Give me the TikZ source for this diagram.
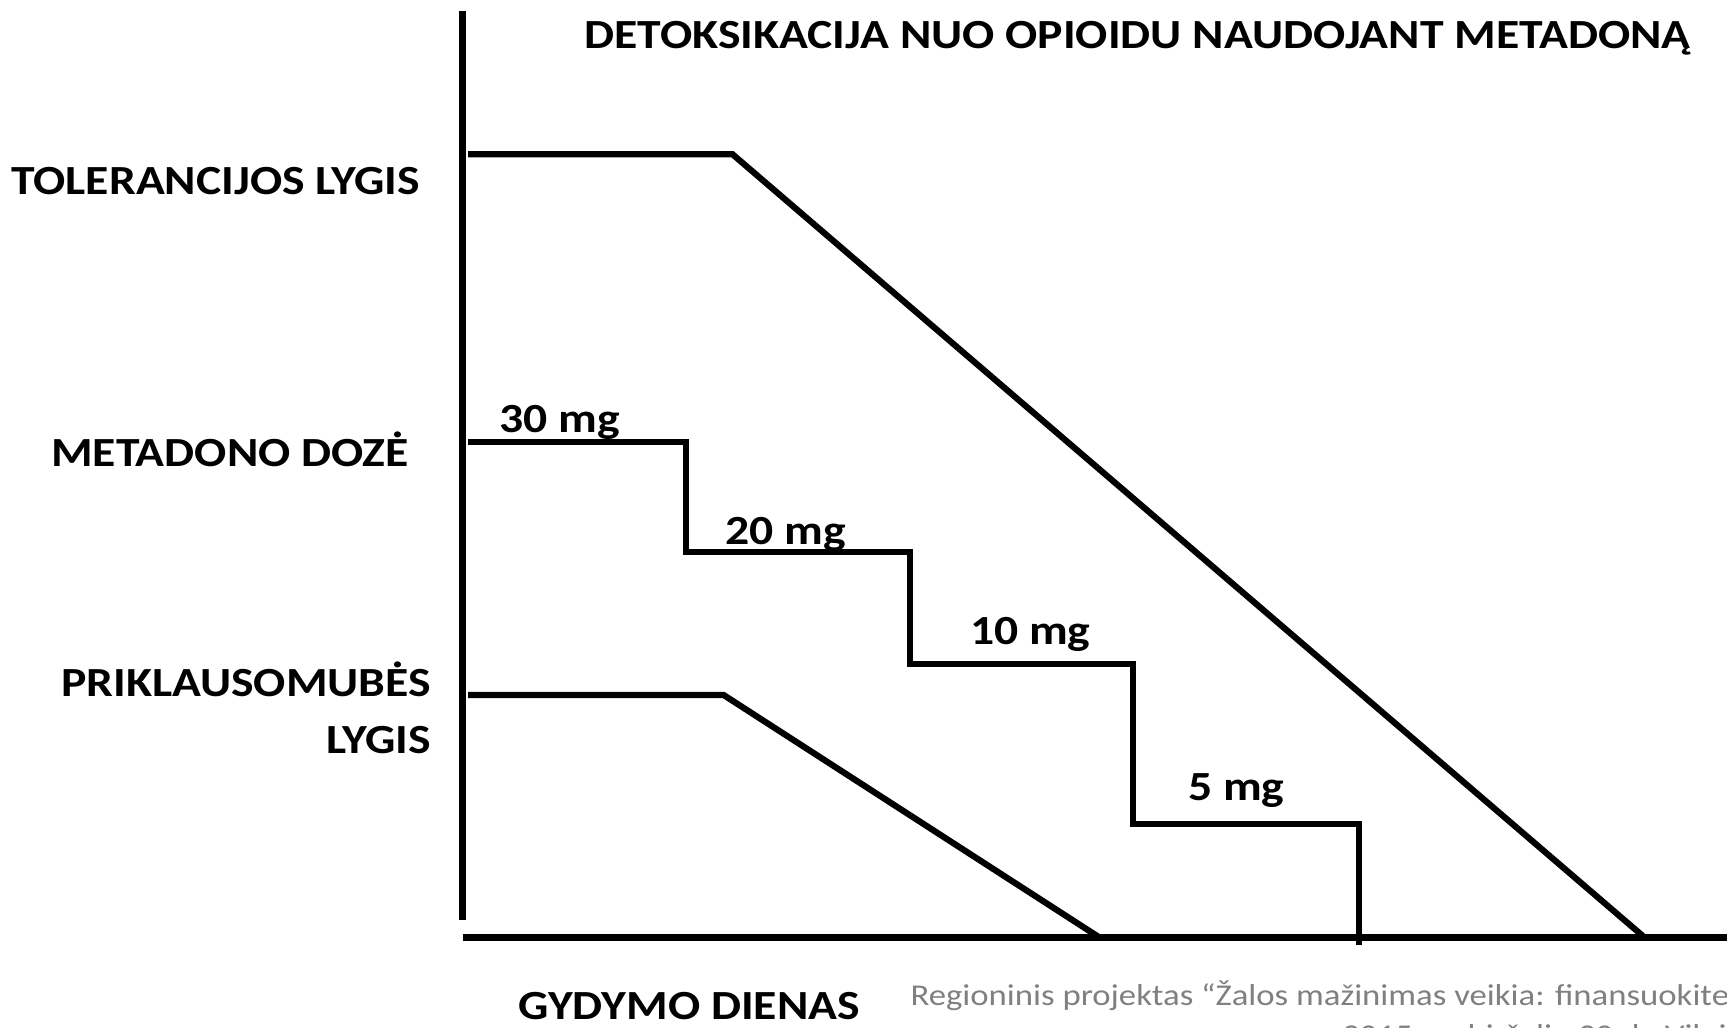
\documentclass[tikz,border=0pt]{standalone}
\usepackage{fontspec}
\setmainfont{Carlito}[FakeStretch=1.15]
\usetikzlibrary{positioning}
\definecolor{footgray}{RGB}{128,128,128}
\tikzset{
  axisline/.style = {line width=1.7pt, line cap=butt},% osys
  levelline/.style = {line width=1.6pt, line join=miter},% lygiu linijos
  lbl/.style = {inner sep=0pt, font=\fontsize{10.7}{12}\selectfont\bfseries},% kaires etiketes
  dose/.style = {lbl, anchor=base west},% dozes etiketes
  foot/.style = {inner sep=0pt, anchor=base west, text=footgray,
    font=\fontsize{7.8}{10}\selectfont}% poraste
}

\begin{document}
\begin{tikzpicture}[x=0.01cm, y=-0.01cm]
\useasboundingbox (0,0) rectangle (1568,933);
% osys
\coordinate (ytop) at (420,10);
\coordinate (ybot) at (420,835);
\coordinate (xl) at (420,851);
\coordinate (xr) at (1568,851);
\draw[axisline] (ytop) -- (ybot);
\draw[axisline] (xl) -- (xr);
% tolerancija
\coordinate (t0) at (425,140);
\coordinate (t1) at (665,140);
\coordinate (t2) at (1493,851);
\draw[levelline] (t0) -- (t1) -- (t2);
% priklausomybe
\coordinate (p0) at (425,631);
\coordinate (p1) at (657,631);
\coordinate (p2) at (998,851);
\draw[levelline] (p0) -- (p1) -- (p2);
% metadono laiptai
\coordinate (m0) at (425,401);
\coordinate (m1) at (623,401);
\coordinate (m2) at (623,501);
\coordinate (m3) at (826,501);
\coordinate (m4) at (826,603);
\coordinate (m5) at (1029,603);
\coordinate (m6) at (1029,748);
\coordinate (m7) at (1234,748);
\coordinate (m8) at (1234,858);
\draw[levelline] (m0) -- (m1) -- (m2) -- (m3) -- (m4) -- (m5) -- (m6) -- (m7) -- (m8);
% tekstai
\node[lbl, anchor=base west] (title) at (530,44) {DETOKSIKACIJA NUO OPIOIDU NAUDOJANT METADONĄ};
\node[lbl, anchor=base east] (tol) at (382,177) {TOLERANCIJOS LYGIS};
\node[lbl, anchor=base east] (met) at (372,424) {METADONO DOZĖ};
\node[lbl, anchor=base east] (pri) at (392,632) {PRIKLAUSOMUBĖS};
\node[lbl, anchor=base east] (pri2) at (392,684) {LYGIS};
\node[lbl, anchor=base west] (days) at (470,926) {GYDYMO DIENAS};
\node[dose] (d30) at (453,393) {30 mg};
\node[dose] (d20) at (658,494) {20 mg};
\node[dose] (d10) at (880,585) {10 mg};
\node[dose] (d5) at (1078,727) {5 mg};
\node[foot] (src) at (826,913) {Regioninis projektas “Žalos mažinimas veikia: finansuokite};
\node[foot] (src2) at (1218,949) {2015 m. birželio 30 d., Vilnius};
\end{tikzpicture}
\end{document}
